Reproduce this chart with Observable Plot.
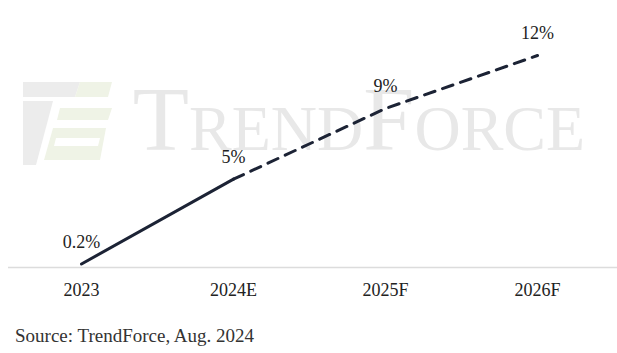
<!DOCTYPE html>
<html>
<head>
<meta charset="utf-8">
<script src="https://cdn.jsdelivr.net/npm/d3@7"></script>
<script src="https://cdn.jsdelivr.net/npm/@observablehq/plot@0.6"></script>
<style>
  html, body { margin: 0; padding: 0; background: #fff; }
  #wrap { position: relative; width: 617px; }
  #logo { position: absolute; left: 0; top: 0; }
  #chart { position: relative; }
  #chart svg { display: block; background: transparent !important; }
  .caption { font-family: "Liberation Serif", serif; font-size: 19px; line-height: 22px; color: #333; margin: 10px 0 0 15px; }
</style>
</head>
<body>
<div id="wrap">
  <svg id="logo" width="130" height="180" viewBox="0 0 130 180">
    <polygon points="23,82 80,82 75,97 23,97" fill="#ececec"/>
    <polygon points="23,101 53,101 36,165 23,165" fill="#ececec"/>
    <polygon points="80,82 112,82 108,97 75,97" fill="#eff3e6"/>
    <polygon points="60,108 112,108 108,120 57,120" fill="#eff3e6"/>
    <polygon points="53,128 106,128 100,160 44,160" fill="#eff3e6"/>
    <polygon points="56,138 100,138 98,146 54,146" fill="#ffffff"/>
  </svg>
  <div id="chart"></div>
</div>
<div class="caption">Source: TrendForce, Aug. 2024</div>
<script>
const years = ["2023", "2024E", "2025F", "2026F"];
const values = [0.2, 5, 9, 12];
const labels = ["0.2%", "5%", "9%", "12%"];

const data = years.map((y, i) => ({year: y, value: values[i], label: labels[i]}));
const solid = data.slice(0, 2);
const dashed = data.slice(1);

const serif = "Liberation Serif, Times New Roman, serif";

const chart = Plot.plot({
  width: 617,
  height: 315,
  marginLeft: 80,
  marginRight: 80,
  marginTop: 55,
  marginBottom: 48,
  style: {fontFamily: serif, fontSize: "18px", color: "#222", background: "transparent"},
  x: {type: "point", domain: years, padding: 0, label: null},
  y: {domain: [0, 12], axis: null},
  marks: [
    Plot.text(["TrendForce"], {frameAnchor: "middle", dx: 50, dy: -41, text: d => d, fontSize: 92, fontVariant: "small-caps", fill: "#e8e8e8", fontFamily: serif}),
    Plot.ruleY([0], {stroke: "#dcdcdc", strokeWidth: 1.5, insetLeft: -72, insetRight: -80}),
    Plot.line(solid, {x: "year", y: "value", stroke: "#1c2335", strokeWidth: 3, strokeLinecap: "round"}),
    Plot.line(dashed, {x: "year", y: "value", stroke: "#1c2335", strokeWidth: 3, strokeDasharray: "11,8"}),
    Plot.text(data, {x: "year", y: "value", text: "label", dx: 0, dy: -22, fontSize: 18, fill: "#222", fontFamily: serif}),
    Plot.axisX({tickSize: 0, tickPadding: 16, fontSize: 18, fill: "#222", fontFamily: serif, label: null})
  ]
});
document.getElementById("chart").append(chart);
</script>
</body>
</html>
